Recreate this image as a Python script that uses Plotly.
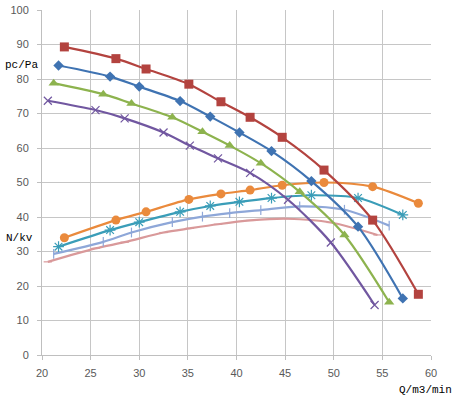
import plotly.graph_objects as go

# ---- data ----
x_red = [22.3, 27.6, 30.7, 35.1, 38.4, 41.4, 44.7, 49.0, 54.0, 58.7]
y_red = [89.3, 85.9, 82.9, 78.5, 73.4, 68.9, 63.1, 53.6, 39.1, 17.6]

x_blue = [21.7, 27.0, 30.0, 34.2, 37.3, 40.3, 43.6, 47.7, 52.5, 57.1]
y_blue = [83.9, 80.7, 77.8, 73.6, 69.1, 64.5, 59.1, 50.4, 37.2, 16.4]

x_green = [21.2, 26.3, 29.2, 33.4, 36.5, 39.3, 42.5, 46.5, 51.1, 55.7]
y_green = [78.8, 75.6, 72.9, 68.9, 64.7, 60.7, 55.6, 47.3, 34.8, 15.3]

x_purple = [20.6, 25.5, 28.5, 32.5, 35.2, 38.1, 41.4, 45.3, 49.7, 54.2]
y_purple = [73.7, 71.0, 68.6, 64.5, 60.7, 57.0, 52.8, 45.0, 32.6, 14.5]

x_orange = [22.3, 27.6, 30.7, 35.1, 38.4, 41.4, 44.7, 49.0, 54.0, 58.7]
y_orange = [34.0, 39.1, 41.5, 45.1, 46.7, 47.8, 49.2, 50.0, 48.8, 44.0]

x_teal = [21.7, 27.0, 30.0, 34.2, 37.3, 40.3, 43.6, 47.7, 52.5, 57.1]
y_teal = [31.4, 36.2, 38.5, 41.5, 43.2, 44.4, 45.5, 46.3, 45.5, 40.6]

x_lblue = [21.2, 26.3, 29.2, 33.4, 36.5, 39.3, 42.5, 46.5, 51.1, 55.7]
y_lblue = [29.3, 32.8, 35.5, 38.5, 40.1, 41.1, 42.0, 43.1, 42.1, 37.5]

x_pink = [20.6, 25.5, 28.5, 32.5, 35.2, 38.1, 41.4, 45.3, 49.7, 54.5]
y_pink = [27.0, 30.9, 32.7, 35.5, 36.7, 37.9, 39.0, 39.5, 38.4, 34.8]

x_ticks = [20, 25, 30, 35, 40, 45, 50, 55, 60]
y_ticks = [0, 10, 20, 30, 40, 50, 60, 70, 80, 90, 100]

fig = go.Figure()

def add(x, y, color, symbol, size, mcolor=None, mline=None, lw=2.2):
    marker = dict(symbol=symbol, size=size, color=mcolor or color)
    if mline is not None:
        marker["line"] = dict(color=mline, width=1.2)
    fig.add_trace(go.Scatter(
        x=x, y=y, mode="lines+markers",
        line=dict(color=color, width=lw, shape="spline", smoothing=0.8),
        marker=marker, showlegend=False, hoverinfo="skip"))

add(x_pink, y_pink, "#d9999a", "line-ew-open", 6, mline="#e2aaaa")
add(x_lblue, y_lblue, "#8ea7d8", "line-ns-open", 7, mline="#9fb6e0")
add(x_teal, y_teal, "#3a9db8", "asterisk-open", 9, mline="#92cde0")
add(x_orange, y_orange, "#ea8a3c", "circle", 9)
add(x_purple, y_purple, "#7157a0", "x-thin-open", 8, mline="#b2a2d2")
add(x_green, y_green, "#8db34e", "triangle-up", 9)
add(x_blue, y_blue, "#3f73b2", "diamond", 8)
add(x_red, y_red, "#b3433f", "square", 9)

axis_common = dict(
    showgrid=True, gridcolor="#c6c6c6", gridwidth=1,
    showline=True, linecolor="#bfbfbf", linewidth=1,
    ticks="outside", ticklen=4, tickcolor="#bfbfbf",
    tickfont=dict(family="Liberation Sans", size=11, color="#595959"),
    zeroline=False, mirror=False, automargin=False,
)

fig.update_xaxes(range=[20, 60], tickvals=x_ticks, ticklabelstandoff=4,
                 ticktext=[str(v) for v in x_ticks], **axis_common)
fig.update_yaxes(range=[0, 100], tickvals=y_ticks, ticklabelstandoff=6,
                 ticktext=[str(v) for v in y_ticks], **axis_common)

lab_font = dict(family="Liberation Mono", size=11, color="#000000")
fig.add_annotation(text="pc/Pa", xref="paper", yref="paper", x=-0.052, y=0.84,
                   xanchor="center", yanchor="middle", showarrow=False, font=lab_font)
fig.add_annotation(text="N/kv", xref="paper", yref="paper", x=-0.058, y=0.34,
                   xanchor="center", yanchor="middle", showarrow=False, font=lab_font)
fig.add_annotation(text="Q/m3/min", xref="paper", yref="paper", x=1.058, y=-0.1,
                   xanchor="right", yanchor="middle", showarrow=False, font=lab_font)

fig.update_layout(
    width=455, height=397,
    margin=dict(l=42, r=24, t=10, b=42),
    paper_bgcolor="white", plot_bgcolor="white",
)

fig.write_html(
    "out.html",
    config={"displayModeBar": False},
    post_script="document.body.style.margin='0';document.body.style.padding='0';document.body.style.overflow='hidden';",
)
